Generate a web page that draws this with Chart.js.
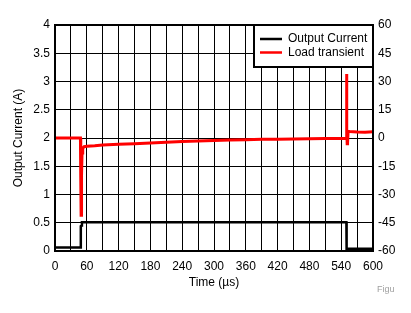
<!DOCTYPE html>
<html>
<head>
<meta charset="utf-8">
<script src="https://cdn.jsdelivr.net/npm/chart.js@4"></script>
<style>
html,body{margin:0;padding:0;background:#fff;}
#wrap{position:relative;width:411px;height:313px;}
</style>
</head>
<body>
<div id="wrap"><canvas id="c" width="411" height="313"></canvas></div>
<script>
// Data (time in µs)
const timeCurrent = [0, 48.5, 48.7, 50.5, 50.8, 549.8, 550.2, 600];
const outputCurrent = [0.06, 0.06, 0.44, 0.45, 0.51, 0.51, 0.04, 0.04];

const timeTransient = [0, 48, 48.4, 48.8, 49.3, 49.8, 50.3, 51, 52.3, 55, 60, 75, 90, 120, 150, 180, 210, 240, 270, 300, 330, 360, 390, 420, 450, 480, 510, 540, 549.5, 550, 550.4, 550.8, 551.3, 552, 553, 556, 570, 585, 600];
const loadTransient = [0, 0, -8, -21, -41, -41, -20, -8, -5.5, -4.6, -4.4, -4.1, -3.7, -3.3, -3.0, -2.6, -2.3, -1.9, -1.6, -1.3, -1.1, -0.9, -0.7, -0.6, -0.5, -0.4, -0.3, -0.3, -0.2, 34, 22, 5, -3, -2.5, 3.5, 3.4, 3.2, 3.1, 3.3];

const xTicks = {min: 0, max: 600, step: 30, labelStep: 60};
const yLeftTicks = {min: 0, max: 4, step: 0.5};
const yRightTicks = {min: -60, max: 60, step: 15};

const seriesLabels = ['Output Current', 'Load transient'];
const seriesColors = ['#000000', '#ff0000'];

const FONT = "'Liberation Sans', Arial, sans-serif";

const framePlugin = {
  id: 'frame',
  afterDatasetsDraw(chart) {
    const {ctx, chartArea: a} = chart;
    ctx.save();
    ctx.strokeStyle = '#000';
    ctx.lineWidth = 2;
    ctx.strokeRect(a.left, a.top, a.right - a.left, a.bottom - a.top);
    // legend box
    const lx = 254, ly = a.top, lw = a.right - 254, lh = 42;
    ctx.fillStyle = '#fff';
    ctx.fillRect(lx, ly, lw, lh);
    ctx.strokeRect(lx, ly, lw, lh);
    ctx.font = '12px ' + FONT;
    ctx.textBaseline = 'middle';
    chart.data.datasets.forEach((ds, i) => {
      const y = ly + 14 + i * 13.5;
      ctx.strokeStyle = ds.borderColor;
      ctx.lineWidth = 2.5;
      ctx.beginPath();
      ctx.moveTo(260, y);
      ctx.lineTo(282, y);
      ctx.stroke();
      ctx.fillStyle = '#000';
      ctx.fillText(ds.label, 288, y);
    });
    ctx.fillStyle = '#a0a0a0';
    ctx.font = '9px ' + FONT;
    ctx.fillText('Figu', 377, 290);
    ctx.restore();
  }
};

new Chart(document.getElementById('c'), {
  type: 'line',
  data: {
    datasets: [
      {
        label: seriesLabels[0],
        data: timeCurrent.map((t, i) => ({x: t, y: outputCurrent[i]})),
        borderColor: seriesColors[0],
        borderWidth: 2.5,
        pointRadius: 0,
        tension: 0,
        yAxisID: 'y',
        order: 2
      },
      {
        label: seriesLabels[1],
        data: timeTransient.map((t, i) => ({x: t, y: loadTransient[i]})),
        borderColor: seriesColors[1],
        borderWidth: 3,
        pointRadius: 0,
        tension: 0,
        yAxisID: 'y2',
        order: 1
      }
    ]
  },
  options: {
    responsive: false,
    animation: false,
    devicePixelRatio: 1,
    layout: {padding: {top: 25, right: 0, left: 0, bottom: 0}},
    plugins: {legend: {display: false}, tooltip: {enabled: false}},
    scales: {
      x: {
        type: 'linear',
        min: xTicks.min, max: xTicks.max,
        afterFit(s) { s.height = 62; },
        ticks: {
          stepSize: xTicks.step, autoSkip: false, maxRotation: 0, padding: 8,
          color: '#000', font: {family: FONT, size: 12},
          callback: v => (v % xTicks.labelStep === 0 ? String(v) : '')
        },
        grid: {color: '#000', lineWidth: 1, drawTicks: false},
        border: {display: false},
        title: {display: true, text: 'Time (µs)', color: '#000', font: {family: FONT, size: 12}, padding: {top: 0, bottom: 23}}
      },
      y: {
        position: 'left',
        min: yLeftTicks.min, max: yLeftTicks.max,
        afterFit(s) { s.width = 55; },
        ticks: {stepSize: yLeftTicks.step, padding: 5, color: '#000', font: {family: FONT, size: 12}, callback: v => String(v)},
        grid: {color: '#000', lineWidth: 1, drawTicks: false},
        border: {display: false},
        title: {display: true, text: 'Output Current (A)', color: '#000', font: {family: FONT, size: 12}, padding: {top: 11, bottom: 0}}
      },
      y2: {
        position: 'right',
        min: yRightTicks.min, max: yRightTicks.max,
        afterFit(s) { s.width = 38; },
        ticks: {stepSize: yRightTicks.step, padding: 5, color: '#000', font: {family: FONT, size: 12}, callback: v => String(v)},
        grid: {display: false, drawTicks: false},
        border: {display: false}
      }
    }
  },
  plugins: [framePlugin]
});
</script>
</body>
</html>
